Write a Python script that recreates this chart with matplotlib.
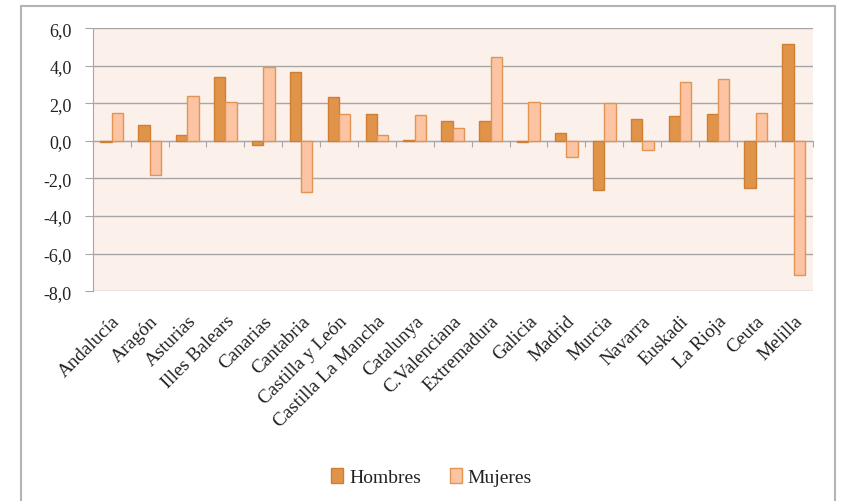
import numpy as np
import matplotlib
matplotlib.use("Agg")
import matplotlib.pyplot as plt
from matplotlib.patches import Rectangle, Patch

# data
regions = ['Andalucía', 'Aragón', 'Asturias', 'Illes Balears', 'Canarias', 'Cantabria',
           'Castilla y León', 'Castilla La Mancha', 'Catalunya', 'C.Valenciana',
           'Extremadura', 'Galicia', 'Madrid', 'Murcia', 'Navarra', 'Euskadi',
           'La Rioja', 'Ceuta', 'Melilla']
hombres = [-0.05, 0.83, 0.32, 3.42, -0.23, 3.68, 2.35, 1.43, 0.02, 1.06,
           1.03, -0.05, 0.41, -2.60, 1.17, 1.31, 1.43, -2.51, 5.13]
mujeres = [1.50, -1.84, 2.39, 2.07, 3.95, -2.71, 1.43, 0.32, 1.40, 0.71,
           4.44, 2.09, -0.88, 2.00, -0.48, 3.12, 3.31, 1.50, -7.15]
yticks = [6, 4, 2, 0, -2, -4, -6, -8]

c_h = '#E0944A'
c_h_edge = '#D07E32'
c_m = '#FCC4A2'
c_m_edge = '#E09555'
grid_col = '#A6A6A6'
txt_col = '#222222'

plt.rcParams['font.family'] = ['Liberation Serif', 'DejaVu Serif']

fig = plt.figure(figsize=(8.43, 5.02), dpi=100)
ax = fig.add_axes([0.110, 0.418, 0.854, 0.524])
ax.set_facecolor('#FCF0EB')

x = np.arange(len(regions))
w = 0.3
ax.bar(x - w / 2, hombres, w, color=c_h, edgecolor=c_h_edge, linewidth=1, zorder=3)
ax.bar(x + w / 2, mujeres, w, color=c_m, edgecolor=c_m_edge, linewidth=1, zorder=3)

ax.set_xlim(-0.5, len(regions) - 0.5)
ax.set_ylim(-8, 6)
ax.set_yticks(yticks)
ax.set_yticklabels([f'{v:.1f}'.replace('.', ',') for v in yticks], fontsize=13,
                   color=txt_col)
ax.yaxis.grid(True, color=grid_col, linewidth=1, zorder=1)
ax.tick_params(axis='y', length=6, color=grid_col, pad=9)

for s in ['top', 'right', 'bottom']:
    ax.spines[s].set_visible(False)
ax.spines['left'].set_color(grid_col)

ax.set_xticks(x)
ax.set_xticklabels(regions, rotation=45, ha='right', rotation_mode='anchor',
                   fontsize=13.8, color=txt_col)
ax.tick_params(axis='x', length=0, pad=15)

# axis line at zero with small ticks between categories
sec = ax.secondary_xaxis(0, transform=ax.transData)
sec.set_xticks(np.arange(len(regions) + 1) - 0.5)
sec.set_xticklabels([])
sec.tick_params(length=4, color=grid_col, direction='out')
sec.spines['bottom'].set_color(grid_col)

handles = [Patch(facecolor=c_h, edgecolor=c_h_edge, label='Hombres'),
           Patch(facecolor=c_m, edgecolor=c_m_edge, label='Mujeres')]
leg = fig.legend(handles=handles, loc='center', bbox_to_anchor=(0.512, 0.048), ncol=2,
                 frameon=False, fontsize=14, handlelength=0.6, handleheight=0.8,
                 handletextpad=0.3, columnspacing=1.5)
for t in leg.get_texts():
    t.set_color(txt_col)

# outer chart frame
fig.patches.append(Rectangle((21 / 843, -0.05), (835 - 21) / 843, 1.05 - 7 / 502,
                             transform=fig.transFigure, fill=False,
                             edgecolor='#B4B4B4', linewidth=1.5))

fig.savefig('out.png', dpi=100)
